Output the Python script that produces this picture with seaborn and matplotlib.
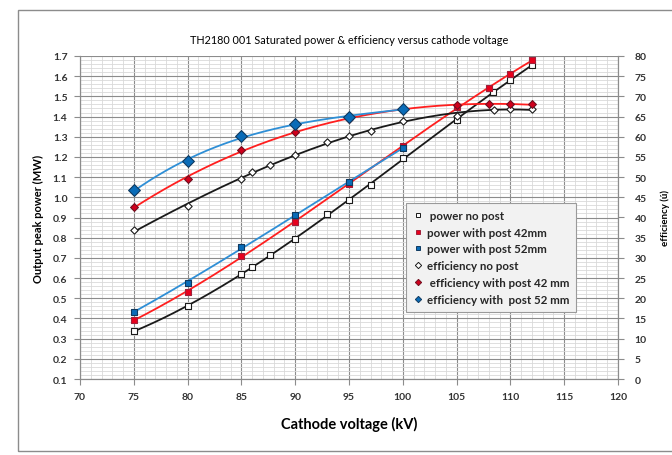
import numpy as np
import pandas as pd
import matplotlib.pyplot as plt
import seaborn as sns
from matplotlib.lines import Line2D
from matplotlib.patches import Rectangle
from matplotlib.ticker import MultipleLocator

# power (MW) vs cathode voltage (kV)
kv_p0 = [75, 80, 85, 86, 87.7, 90, 93, 95, 97, 100, 105, 108.4, 110, 112]
pw_p0 = [0.336, 0.462, 0.62, 0.655, 0.713, 0.794, 0.917, 0.985, 1.062, 1.194, 1.384, 1.521, 1.582, 1.653]
kv_p42 = [75, 80, 85, 90, 95, 100, 105, 108, 110, 112]
pw_p42 = [0.392, 0.531, 0.711, 0.88, 1.067, 1.252, 1.447, 1.541, 1.612, 1.678]
kv_p52 = [75, 80, 85, 90, 95, 100]
pw_p52 = [0.434, 0.577, 0.754, 0.91, 1.075, 1.245]

# efficiency (%) vs cathode voltage (kV)
kv_e0 = [75, 80, 85, 86, 87.7, 90, 93, 95, 97, 100, 105, 108.5, 110, 112]
ef_e0 = [36.8, 42.8, 49.5, 51.2, 53.1, 55.5, 58.7, 60.3, 61.5, 64.0, 65.1, 66.7, 66.9, 66.8]
kv_e42 = [75, 80, 85, 90, 95, 100, 105, 108, 110, 112]
ef_e42 = [42.6, 49.6, 56.8, 61.1, 64.5, 66.8, 67.9, 68.2, 68.0, 68.0]
kv_e52 = [75, 80, 85, 90, 95, 100]
ef_e52 = [46.7, 53.9, 60.2, 63.1, 64.9, 66.9]

RED = '#ff1f1f'
BLUE = '#2f8fd6'
BLK = '#1a1a1a'

plt.rcParams['font.family'] = ['Lato', 'DejaVu Sans']

fig = plt.figure(figsize=(6.72, 4.56), dpi=100)
fig.patches.append(Rectangle((18 / 672, 1 - 452 / 456), 660 / 672, 441 / 456,
                             transform=fig.transFigure, fill=False,
                             edgecolor='#8c8c8c', linewidth=1.0))
ax = fig.add_axes([80 / 672, 1 - 380 / 456, 538 / 672, 323 / 456])
ax2 = ax.twinx()


def trend(x, y, deg=3):
    c = np.polyfit(x, y, deg)
    xs = np.linspace(min(x), max(x), 200)
    return pd.DataFrame({'x': xs, 'y': np.polyval(c, xs)})


# power curves and markers (left axis)
for kv, pw, col, mfc, mec in [(kv_p0, pw_p0, BLK, 'white', BLK),
                             (kv_p42, pw_p42, RED, '#e8001c', '#a0203a'),
                             (kv_p52, pw_p52, BLUE, '#0a6cb8', '#103a60')]:
    t = trend(kv, pw)
    sns.lineplot(data=t, x='x', y='y', ax=ax, color=col, linewidth=1.3, zorder=3)
    sns.scatterplot(x=kv, y=pw, ax=ax, marker='s', s=15, color=mfc,
                    edgecolor=mec, linewidth=0.8, zorder=4)

# efficiency curves and markers (right axis)
for kv, ef, col, mfc, mec, sz in [(kv_e0, ef_e0, BLK, 'white', BLK, 14),
                                 (kv_e42, ef_e42, RED, '#d0001c', '#701020', 16),
                                 (kv_e52, ef_e52, BLUE, '#0a6cb8', '#103a60', 36)]:
    t = trend(kv, ef)
    sns.lineplot(data=t, x='x', y='y', ax=ax2, color=col, linewidth=1.3, zorder=3)
    sns.scatterplot(x=kv, y=ef, ax=ax2, marker='D', s=sz, color=mfc,
                    edgecolor=mec, linewidth=0.8, zorder=4)

ax.set_xlim(70, 120)
ax.set_ylim(0.1, 1.7)
ax2.set_ylim(0, 80)

ax.xaxis.set_major_locator(MultipleLocator(5))
ax.xaxis.set_minor_locator(MultipleLocator(1))
ax.yaxis.set_major_locator(MultipleLocator(0.1))
ax.yaxis.set_minor_locator(MultipleLocator(0.02))
ax2.yaxis.set_major_locator(MultipleLocator(5))
ax.yaxis.set_major_formatter(plt.FuncFormatter(lambda v, p: f'{v:.1f}'))

ax.grid(which='major', color='#8c8c8c', linewidth=0.8)
ax.grid(which='minor', color='#d9d9d9', linewidth=0.6)
ax.set_axisbelow(True)
ax2.grid(False)

for a in (ax, ax2):
    for s in a.spines.values():
        s.set_color('#8c8c8c')
        s.set_linewidth(0.8)
    a.spines['top'].set_visible(False)
    a.tick_params(which='major', length=4, width=0.8, color='#8c8c8c',
                  labelsize=7.5, labelcolor='#333333')
    a.tick_params(which='minor', length=0)
ax2.tick_params(axis='y', pad=8)
ax.tick_params(axis='y', pad=5)
ax.tick_params(axis='x', pad=5)

for lbl in ax.get_xticklabels() + ax.get_yticklabels() + ax2.get_yticklabels():
    lbl.set_fontweight('bold')

ax.set_xlabel('Cathode voltage (kV)', fontsize=10.5, fontweight='bold', labelpad=11)
ax.set_ylabel('Output peak power (MW)', fontsize=8, fontweight='bold', labelpad=6)
ax2.set_ylabel('efficiency (ú)', fontsize=7, fontweight='bold', labelpad=10)
ax.set_title('TH2180 001 Saturated power & efficiency versus cathode voltage',
             fontsize=7.8, pad=9)

handles = [
    Line2D([], [], ls='none', marker='s', ms=3.5, mfc='white', mec=BLK, mew=0.7),
    Line2D([], [], ls='none', marker='s', ms=3.5, mfc='#e8001c', mec='#a0203a', mew=0.7),
    Line2D([], [], ls='none', marker='s', ms=3.5, mfc='#0a6cb8', mec='#103a60', mew=0.7),
    Line2D([], [], ls='none', marker='D', ms=3.2, mfc='white', mec=BLK, mew=0.7),
    Line2D([], [], ls='none', marker='D', ms=3.2, mfc='#d0001c', mec='#701020', mew=0.7),
    Line2D([], [], ls='none', marker='D', ms=3.2, mfc='#0a6cb8', mec='#103a60', mew=0.7),
]
labels = [' power no post', 'power with post 42mm', 'power with post 52mm',
          'efficiency no post', ' efficiency with post 42 mm', 'efficiency with  post 52 mm']
leg = ax2.legend(handles, labels, loc='upper left', bbox_to_anchor=(0.606, 0.545),
                 fontsize=8.3, frameon=True, fancybox=False, handlelength=0.8,
                 handletextpad=0.4, labelspacing=0.5, borderpad=0.6,
                 borderaxespad=0)
leg.get_frame().set_facecolor('#f2f2f2')
leg.get_frame().set_edgecolor('#9a9a9a')
leg.get_frame().set_linewidth(0.8)
leg.get_frame().set_alpha(1)
for t in leg.get_texts():
    t.set_fontweight('bold')
    t.set_color('#262626')

fig.savefig('out.png', dpi=100)
